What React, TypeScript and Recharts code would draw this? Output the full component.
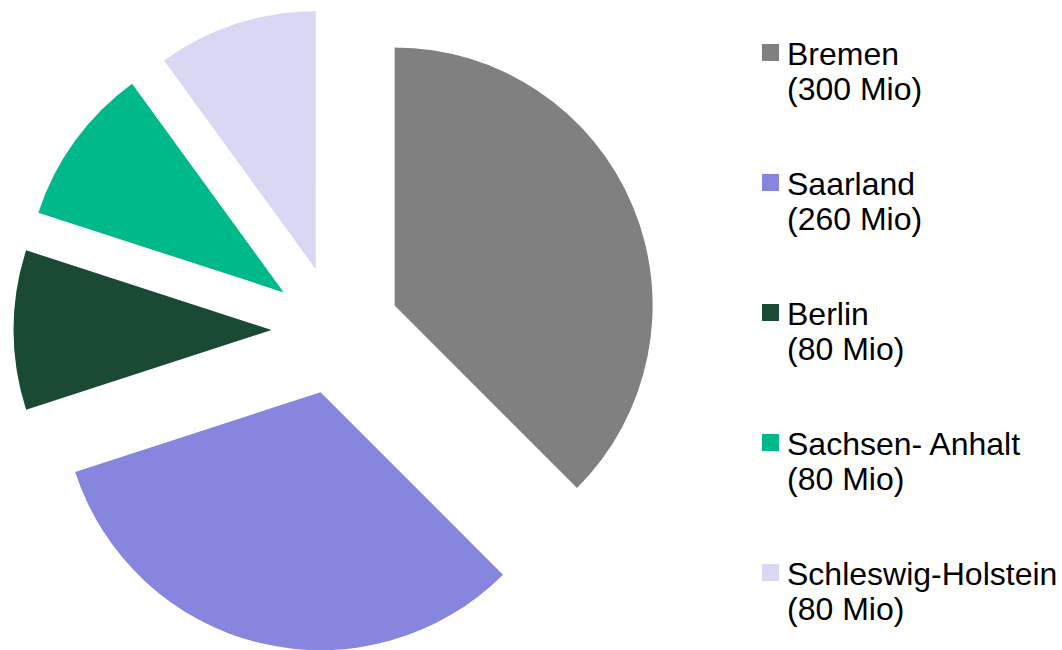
import { PieChart, Pie, Cell, Sector, Legend } from 'recharts';

const states = ['Bremen', 'Saarland', 'Berlin', 'Sachsen- Anhalt', 'Schleswig-Holstein'];
const amounts = [300, 260, 80, 80, 80];
const colors = ['#808080', '#8686de', '#1b4a34', '#00b98a', '#d8d8f4'];

const data = states.map((name, i) => ({ name, value: amounts[i] }));

const EXPLODE = 64;
const RAD = Math.PI / 180;

// every slice pulled out along its own mid angle
const ExplodedSlice = (props: any) => {
  const { cx, cy, midAngle, innerRadius, outerRadius, startAngle, endAngle, fill } = props;
  const dx = EXPLODE * Math.cos(-midAngle * RAD);
  const dy = EXPLODE * Math.sin(-midAngle * RAD);
  return (
    <Sector
      cx={cx + dx}
      cy={cy + dy}
      innerRadius={innerRadius}
      outerRadius={outerRadius}
      startAngle={startAngle}
      endAngle={endAngle}
      fill={fill}
    />
  );
};

const LegendBox = (props: any) => {
  // keep the data order, not the sorted order recharts hands over
  const items = [...(props.payload || [])].sort(
    (a: any, b: any) => states.indexOf(a.value) - states.indexOf(b.value)
  );
  return (
    <div style={{ fontFamily: '"Liberation Sans", Arial, sans-serif', fontSize: 32, color: '#000' }}>
      {items.map((entry: any, i: number) => (
        <div key={entry.value} style={{ display: 'flex', height: 130 }}>
          <div
            style={{
              width: 17,
              height: 17,
              marginTop: 7,
              marginRight: 8,
              background: entry.color,
            }}
          />
          <div style={{ lineHeight: '35px', whiteSpace: 'nowrap' }}>
            <div>{entry.value}</div>
            <div>({entry.payload?.value ?? amounts[i]} Mio)</div>
          </div>
        </div>
      ))}
    </div>
  );
};

export default function App() {
  return (
    <div>
      <style>{'body{margin:0}'}</style>
      <PieChart width={1062} height={650} margin={{ top: 0, right: 0, bottom: 0, left: 0 }}>
        <Pie
          data={data}
          dataKey="value"
          nameKey="name"
          cx={335.5}
          cy={330}
          outerRadius={258}
          startAngle={90}
          endAngle={-270}
          stroke="none"
          isAnimationActive={false}
          shape={ExplodedSlice}
          activeShape={ExplodedSlice}
          inactiveShape={ExplodedSlice}
        >
          {data.map((d, i) => (
            <Cell key={d.name} fill={colors[i]} />
          ))}
        </Pie>
        <Legend
          layout="vertical"
          itemSorter={null as any}
          content={LegendBox}
          wrapperStyle={{ position: 'absolute', left: 762, top: 37, width: 300 }}
        />
      </PieChart>
    </div>
  );
}
